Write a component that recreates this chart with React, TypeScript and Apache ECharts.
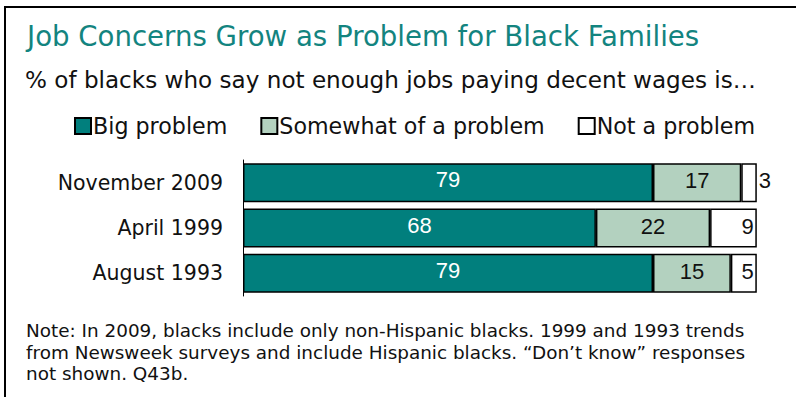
import React, { useEffect, useRef } from "react";
import * as echarts from "echarts";

const categories = ["November 2009", "April 1999", "August 1993"];
const bigProblem = [79, 68, 79];
const somewhatProblem = [17, 22, 15];
const notProblem = [3, 9, 5];
const seriesNames = ["Big problem", "Somewhat of a problem", "Not a problem"];

const titleText = "Job Concerns Grow as Problem for Black Families";
const subtitleText = "% of blacks who say not enough jobs paying decent wages is\u2026";
const noteText =
  "Note: In 2009, blacks include only non-Hispanic blacks. 1999 and 1993 trends\nfrom Newsweek surveys and include Hispanic blacks. \u201cDon\u2019t know\u201d responses\nnot shown. Q43b.";

const mainFont = "'DejaVu Sans', Verdana, sans-serif";
const labelFont = "'Liberation Sans', Arial, sans-serif";

export default function App() {
  const ref = useRef<HTMLDivElement>(null);
  useEffect(() => {
    if (!ref.current) return;
    const chart = echarts.init(ref.current, null, { renderer: "svg" });
    const labelBase = { show: true, fontFamily: labelFont, fontSize: 22 };
    chart.setOption({
      animation: false,
      backgroundColor: "#ffffff",
      title: [
        {
          text: titleText,
          left: 22,
          top: 17,
          textStyle: { color: "#13847f", fontFamily: mainFont, fontSize: 27.6, fontWeight: "normal" },
        },
        {
          text: subtitleText,
          left: 20,
          top: 63,
          textStyle: { color: "#111", fontFamily: mainFont, fontSize: 23.1, fontWeight: "normal" },
        },
        {
          text: noteText,
          left: 21,
          top: 315,
          textStyle: { color: "#111", fontFamily: mainFont, fontSize: 18.4, fontWeight: "normal", lineHeight: 21.5 },
        },
      ],
      legend: {
        left: 69,
        top: 110,
        itemWidth: 16,
        itemHeight: 16,
        itemGap: 33,
        icon: "rect",
        textStyle: { fontFamily: mainFont, fontSize: 22.2, color: "#111", padding: [0, 0, 0, -3] },
        data: seriesNames,
      },
      graphic: [
        {
          type: "rect",
          shape: { x: 5, y: 7, width: 900, height: 500 },
          style: { fill: "none", stroke: "#000", lineWidth: 2 },
          silent: true,
        },
      ],
      grid: { left: 243, right: 34, top: 160, bottom: 101 },
      xAxis: {
        type: "value",
        min: 0,
        max: 100,
        show: false,
      },
      yAxis: {
        type: "category",
        data: categories,
        inverse: true,
        axisLine: { show: true, lineStyle: { color: "#000", width: 1 } },
        axisTick: { show: false },
        axisLabel: { fontFamily: mainFont, fontSize: 20.5, color: "#111", margin: 20 },
      },
      series: [
        {
          name: seriesNames[0],
          type: "bar",
          stack: "t",
          barWidth: 39,
          data: bigProblem,
          itemStyle: { color: "#017f7d", borderColor: "#000", borderWidth: 1.5 },
          label: { ...labelBase, position: "inside", color: "#fff", offset: [0, -3] },
        },
        {
          name: seriesNames[1],
          type: "bar",
          stack: "t",
          barWidth: 39,
          data: somewhatProblem,
          itemStyle: { color: "#b3d1bf", borderColor: "#000", borderWidth: 1.5 },
          label: { ...labelBase, position: "inside", color: "#111", offset: [0, -2] },
        },
        {
          name: seriesNames[2],
          type: "bar",
          stack: "t",
          barWidth: 39,
          data: notProblem.map((v, i) =>
            i === 0
              ? { value: v, label: { position: "right", distance: 2 } }
              : { value: v }
          ),
          itemStyle: { color: "#ffffff", borderColor: "#000", borderWidth: 1.5 },
          label: { ...labelBase, position: "insideRight", distance: 3, color: "#111", offset: [0, -2] },
        },
      ],
    });
    return () => chart.dispose();
  }, []);
  return (
    <div
      ref={ref}
      style={{ position: "fixed", left: 0, top: 0, width: 796, height: 397 }}
    />
  );
}
